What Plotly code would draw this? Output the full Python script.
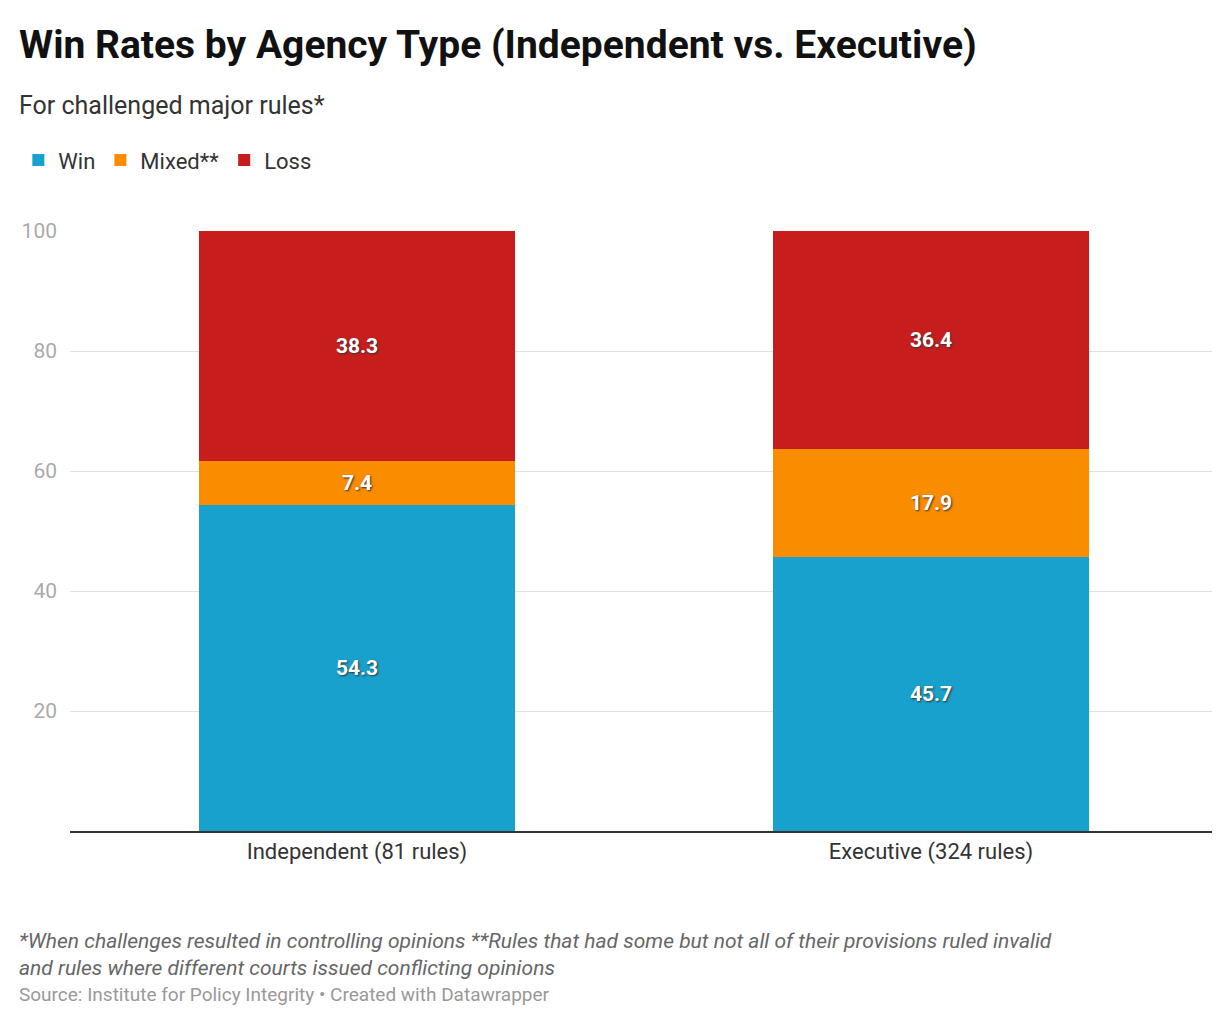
import plotly.graph_objects as go

categories = ["Independent (81 rules)", "Executive (324 rules)"]
win = [54.3, 45.7]
mixed = [7.4, 17.9]
loss = [38.3, 36.4]
y_ticks = [20, 40, 60, 80, 100]

fig = go.Figure()
for name, vals, color in [("Win", win, "#18a1cd"), ("Mixed**", mixed, "#fa8c00"), ("Loss", loss, "#c71e1d")]:
    fig.add_trace(go.Bar(
        name=name, x=categories, y=vals, marker_color=color, marker_line_width=0,
        text=[f"{v:.1f}" for v in vals], textposition="inside", insidetextanchor="middle",
        textfont=dict(color="white", size=21, family="Roboto", weight="bold",
                      shadow="1px 1px 2px #333"),
        width=0.55, hoverinfo="skip",
    ))

fig.update_layout(
    barmode="stack", width=1220, height=1010,
    margin=dict(l=62, r=10, t=223, b=187),
    paper_bgcolor="white", plot_bgcolor="white",
    font=dict(family="Roboto", color="#333"),
    legend=dict(orientation="h", x=-0.045, xanchor="left", y=1.118, yanchor="middle",
                font=dict(size=22, color="#333"), itemwidth=30, traceorder="normal"),
    xaxis=dict(showline=True, linecolor="#333", linewidth=2, ticks="",
               tickfont=dict(size=22, color="#333")),
    yaxis=dict(range=[0, 100], tickvals=y_ticks, showgrid=True, gridcolor="#e0e0e0",
               tickfont=dict(size=21, color="#aaa"), ticklabelstandoff=12,
               zeroline=False, ticks=""),
)
fig.add_annotation(text="<b>Win Rates by Agency Type (Independent vs. Executive)</b>",
                   xref="paper", yref="paper", x=-0.046, y=1.31, xanchor="left", yanchor="middle",
                   showarrow=False, font=dict(size=39, color="#111"))
fig.add_annotation(text="For challenged major rules*", xref="paper", yref="paper",
                   x=-0.046, y=1.21, xanchor="left", yanchor="middle",
                   showarrow=False, font=dict(size=25, color="#333"))
fig.add_annotation(text="<i>*When challenges resulted in controlling opinions **Rules that had some but not all of their provisions ruled invalid<br>and rules where different courts issued conflicting opinions</i>",
                   xref="paper", yref="paper", x=-0.046, y=-0.205, xanchor="left", yanchor="middle",
                   align="left", showarrow=False, font=dict(size=21, color="#666"))
fig.add_annotation(text="Source: Institute for Policy Integrity • Created with Datawrapper",
                   xref="paper", yref="paper", x=-0.046, y=-0.273, xanchor="left", yanchor="middle",
                   showarrow=False, font=dict(size=19, color="#999"))
fig.write_html("out.html")
